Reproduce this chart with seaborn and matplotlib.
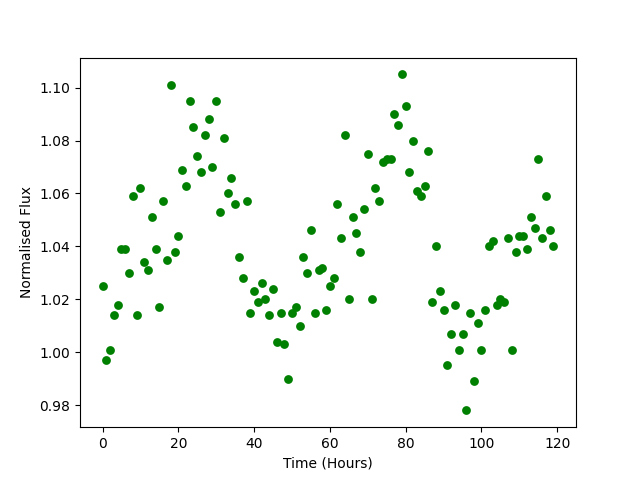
import numpy as np
import pandas as pd
import matplotlib
matplotlib.use("Agg")
import matplotlib.pyplot as plt
import seaborn as sns

# time in hours, one point per hour
hours = list(range(120))

flux = [
    1.025, 0.997, 1.001, 1.014, 1.018, 1.039, 1.039, 1.030, 1.059, 1.014,
    1.062, 1.034, 1.031, 1.051, 1.039, 1.017, 1.057, 1.035, 1.101, 1.038,
    1.044, 1.069, 1.063, 1.095, 1.085, 1.074, 1.068, 1.082, 1.088, 1.070,
    1.095, 1.053, 1.081, 1.060, 1.066, 1.056, 1.036, 1.028, 1.057, 1.015,
    1.023, 1.019, 1.026, 1.020, 1.014, 1.024, 1.004, 1.015, 1.003, 0.990,
    1.015, 1.017, 1.010, 1.036, 1.030, 1.046, 1.015, 1.031, 1.032, 1.016,
    1.025, 1.028, 1.056, 1.043, 1.082, 1.020, 1.051, 1.045, 1.038, 1.054,
    1.075, 1.020, 1.062, 1.057, 1.072, 1.073, 1.073, 1.090, 1.086, 1.105,
    1.093, 1.068, 1.080, 1.061, 1.059, 1.063, 1.076, 1.019, 1.040, 1.023,
    1.016, 0.995, 1.007, 1.018, 1.001, 1.007, 0.978, 1.015, 0.989, 1.011,
    1.001, 1.016, 1.040, 1.042, 1.018, 1.020, 1.019, 1.043, 1.001, 1.038,
    1.044, 1.044, 1.039, 1.051, 1.047, 1.073, 1.043, 1.059, 1.046, 1.040,
]

df = pd.DataFrame({'hours': hours, 'flux': flux})

fig, ax = plt.subplots(figsize=(6.4, 4.8), dpi=100)
sns.scatterplot(data=df, x='hours', y='flux', color='green', s=40,
                linewidth=0, ax=ax)
ax.set_xlabel('Time (Hours)')
ax.set_ylabel('Normalised Flux')
fig.savefig('out.png')
